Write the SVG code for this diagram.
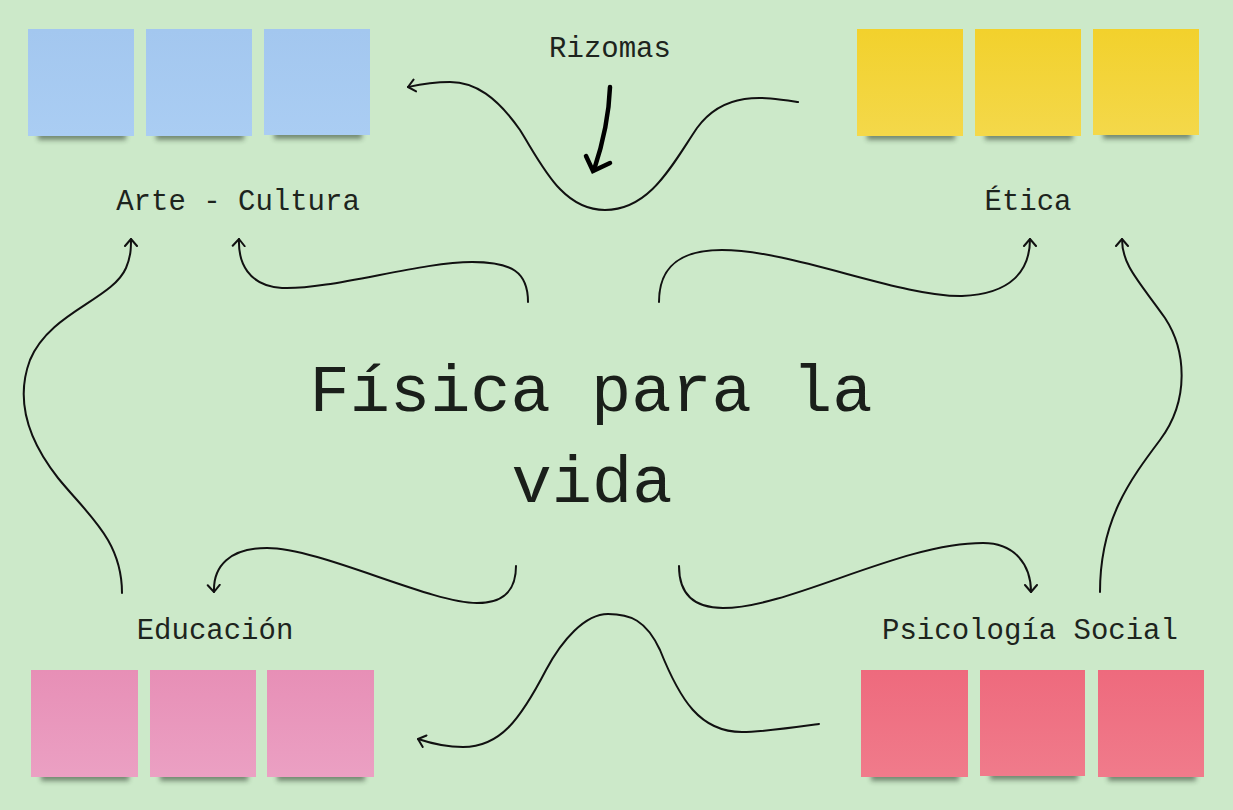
<svg xmlns="http://www.w3.org/2000/svg" width="1233" height="810" viewBox="0 0 1233 810">
<style>
.lbl{font-family:"Liberation Mono","DejaVu Sans Mono",monospace;font-size:29px;fill:#1d241d;text-anchor:middle}
.title{font-family:"Liberation Mono","DejaVu Sans Mono",monospace;font-size:67px;fill:#1a1f1a;text-anchor:middle}
.conn{fill:none;stroke:#111;stroke-width:2;stroke-linecap:round}
.shadow{fill:#2b3a2b;opacity:0.55;filter:url(#blur)}
</style>
<defs>
<filter id="blur" x="-20%" y="-100%" width="140%" height="300%"><feGaussianBlur stdDeviation="2.5"/></filter>
<marker id="arr" markerUnits="userSpaceOnUse" markerWidth="16" markerHeight="16" refX="8" refY="7" orient="auto" viewBox="0 0 16 14">
<path d="M1,1 L8,7 L1,13" fill="none" stroke="#111" stroke-width="2" stroke-linecap="round" stroke-linejoin="round"/>
</marker>
<linearGradient id="gBlue" x1="0" y1="0" x2="0" y2="1"><stop offset="0" stop-color="#a3c7ef"/><stop offset="1" stop-color="#aacdf3"/></linearGradient>
<linearGradient id="gYellow" x1="0" y1="0" x2="0" y2="1"><stop offset="0" stop-color="#f2d12c"/><stop offset="1" stop-color="#f4d84a"/></linearGradient>
<linearGradient id="gPink" x1="0" y1="0" x2="0" y2="1"><stop offset="0" stop-color="#e78fb6"/><stop offset="1" stop-color="#eba0c3"/></linearGradient>
<linearGradient id="gRed" x1="0" y1="0" x2="0" y2="1"><stop offset="0" stop-color="#ee6a7d"/><stop offset="1" stop-color="#f07b8b"/></linearGradient>
</defs>
<rect width="1233" height="810" fill="#cce9c9"/>

<g id="stickies-blue">
<rect class="shadow" x="38" y="131" width="88" height="9"/>
<rect class="shadow" x="156" y="131" width="88" height="9"/>
<rect class="shadow" x="274" y="130" width="88" height="9"/>
<rect x="28" y="29" width="106" height="107" fill="url(#gBlue)"/>
<rect x="146" y="29" width="106" height="107" fill="url(#gBlue)"/>
<rect x="264" y="29" width="106" height="106" fill="url(#gBlue)"/>
</g>
<g id="stickies-yellow">
<rect class="shadow" x="867" y="131" width="88" height="9"/>
<rect class="shadow" x="985" y="131" width="88" height="9"/>
<rect class="shadow" x="1103" y="130" width="88" height="9"/>
<rect x="857" y="29" width="106" height="107" fill="url(#gYellow)"/>
<rect x="975" y="29" width="106" height="107" fill="url(#gYellow)"/>
<rect x="1093" y="29" width="106" height="106" fill="url(#gYellow)"/>
</g>
<g id="stickies-pink">
<rect class="shadow" x="41" y="772" width="88" height="9"/>
<rect class="shadow" x="160" y="772" width="88" height="9"/>
<rect class="shadow" x="277" y="772" width="88" height="9"/>
<rect x="31" y="670" width="107" height="107" fill="url(#gPink)"/>
<rect x="150" y="670" width="106" height="107" fill="url(#gPink)"/>
<rect x="267" y="670" width="107" height="107" fill="url(#gPink)"/>
</g>
<g id="stickies-red">
<rect class="shadow" x="871" y="772" width="88" height="9"/>
<rect class="shadow" x="990" y="771" width="88" height="9"/>
<rect class="shadow" x="1108" y="772" width="88" height="9"/>
<rect x="861" y="670" width="107" height="107" fill="url(#gRed)"/>
<rect x="980" y="670" width="105" height="106" fill="url(#gRed)"/>
<rect x="1098" y="670" width="106" height="107" fill="url(#gRed)"/>
</g>

<g id="title"><text class="title" x="591" y="411">Física para la</text><text class="title" x="592" y="502">vida</text></g>
<g id="arte-cultura"><text class="lbl" x="238" y="210">Arte - Cultura</text></g>
<g id="etica"><text class="lbl" x="1028" y="210">Ética</text></g>
<g id="educacion"><text class="lbl" x="215" y="639">Educación</text></g>
<g id="psicologia-social"><text class="lbl" x="1030" y="639">Psicología Social</text></g>
<g id="rizomas"><text class="lbl" x="610" y="57">Rizomas</text></g>

<g id="connectors">
<path class="conn" marker-end="url(#arr)" d="M798,102 C765,97 725,90 697,128 C672,165 650,210 605,210 C562,210 542,165 520,130 C497,97 475,82 450,82 C430,82 417,85 408,87"/>
<path d="M610,87 C609,115 604,140 594,170" fill="none" stroke="#000" stroke-width="4.5" stroke-linecap="round"/>
<path d="M586,156 L593,171 L610,163" fill="none" stroke="#000" stroke-width="4.5" stroke-linecap="round" stroke-linejoin="miter"/>
<path class="conn" marker-end="url(#arr)" d="M528,302 C528,272 512,262 472,262 C420,262 330,290 282,288 C248,286 238,262 239,239"/>
<path class="conn" marker-end="url(#arr)" d="M122,593 C122,540 88,515 58,478 C28,440 15,400 30,360 C50,312 112,300 126,268 C131,256 131,248 131,239"/>
<path class="conn" marker-end="url(#arr)" d="M659,302 C659,268 678,250 722,250 C792,250 900,297 962,296 C1012,294 1030,270 1030,239"/>
<path class="conn" marker-end="url(#arr)" d="M1100,592 C1100,520 1130,480 1160,440 C1190,400 1186,350 1165,318 C1138,280 1122,265 1122,239"/>
<path class="conn" marker-end="url(#arr)" d="M516,566 C516,594 500,603 477,603 C430,603 320,548 267,548 C230,548 213,566 214,592"/>
<path class="conn" marker-end="url(#arr)" d="M679,566 C679,595 695,608 723,608 C790,608 900,543 983,543 C1015,543 1031,565 1031,592"/>
<path class="conn" marker-end="url(#arr)" d="M819,724 C790,728 762,732 742,732 C700,732 680,700 660,650 C646,620 630,614 608,614 C585,614 562,640 546,670 C520,720 500,747 463,747 C445,747 430,743 418,739"/>
</g>
</svg>
